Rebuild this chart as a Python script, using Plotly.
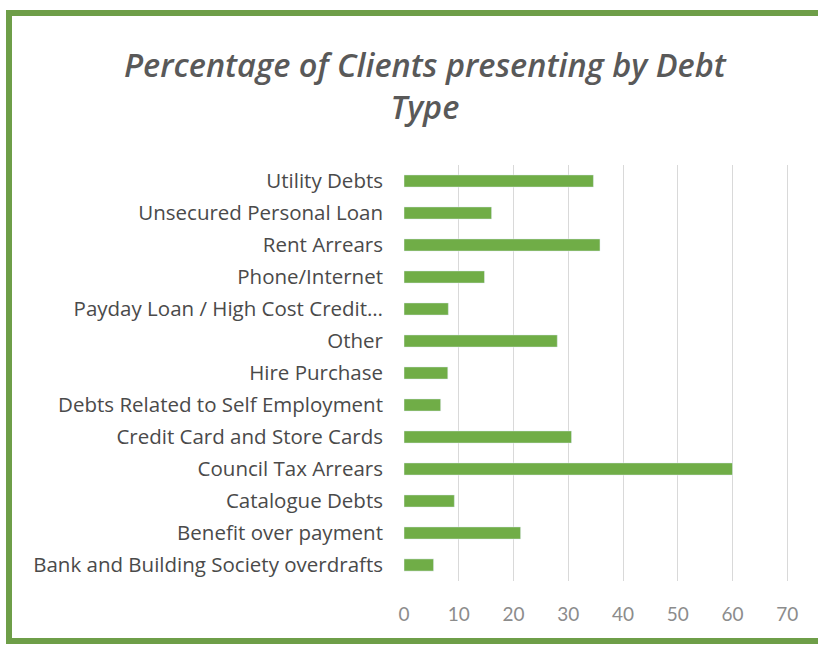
import plotly.graph_objects as go

categories = [
    "Bank and Building Society overdrafts",
    "Benefit over payment",
    "Catalogue Debts",
    "Council Tax Arrears",
    "Credit Card and Store Cards",
    "Debts Related to Self Employment",
    "Hire Purchase",
    "Other",
    "Payday Loan / High Cost Credit…",
    "Phone/Internet",
    "Rent Arrears",
    "Unsecured Personal Loan",
    "Utility Debts",
]
values = [5.4, 21.3, 9.2, 60.0, 30.6, 6.7, 8.0, 28.0, 8.1, 14.7, 35.8, 16.0, 34.6]
x_ticks = [0, 10, 20, 30, 40, 50, 60, 70]

fig = go.Figure(go.Bar(
    x=values, y=categories, orientation="h",
    marker=dict(color="#70AD47"),
))

L, R, T, B = 404, 28, 165, 66
W, H = 818, 647
pw, ph = W - L - R, H - T - B

def px(x):
    return (x - L) / pw

def py(y):
    return (H - B - y) / ph

fig.update_layout(
    width=W, height=H,
    margin=dict(l=L, r=R, t=T, b=B),
    paper_bgcolor="white", plot_bgcolor="white",
    bargap=0.62,
    showlegend=False,
    font=dict(family="Open Sans, sans-serif"),
    xaxis=dict(
        range=[0, 70.5], tickvals=x_ticks,
        showgrid=True, gridcolor="#d9d9d9", gridwidth=1,
        zeroline=False, showline=False,
        tickfont=dict(size=19, color="#8c8c8c", family="Lato, sans-serif"),
        ticks="", ticklabelstandoff=20,
    ),
    yaxis=dict(
        showgrid=False, showline=False,
        tickfont=dict(size=20.5, color="#4a4a4a", family="Open Sans, sans-serif"),
        ticks="", ticklabelstandoff=20,
    ),
    annotations=[
        dict(text="<i>Percentage of Clients presenting by Debt<br>Type</i>",
             xref="paper", yref="paper", x=px(425), y=py(86),
             xanchor="center", yanchor="middle", showarrow=False,
             font=dict(size=32.5, color="#595959", family="Open Sans, sans-serif", weight=600)),
    ],
    shapes=[
        dict(type="rect", xref="paper", yref="paper",
             x0=px(9), x1=px(830), y0=py(641), y1=py(13),
             line=dict(color="#6E9E48", width=6), layer="above"),
    ],
)

fig.write_html("out.html")
